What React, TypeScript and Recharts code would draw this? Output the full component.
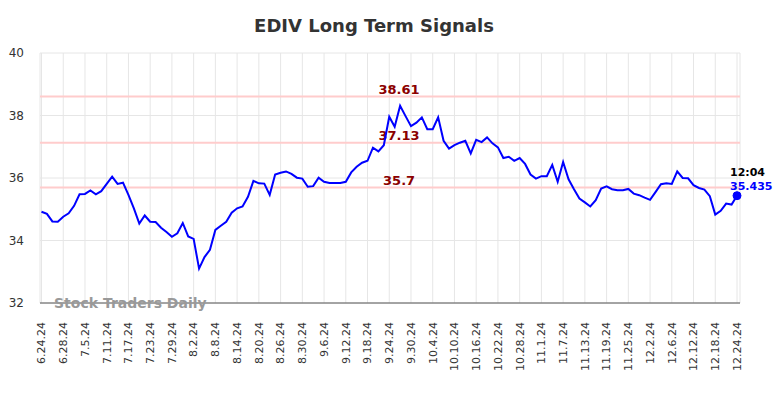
import React from 'react';
import { LineChart, Line, XAxis, YAxis, CartesianGrid, ReferenceLine, ReferenceDot } from 'recharts';

const dates: string[] = [
  '6.24.24','6.25.24','6.26.24','6.27.24','6.28.24',
  '7.1.24','7.2.24','7.3.24','7.5.24','7.8.24','7.9.24','7.10.24','7.11.24','7.12.24','7.15.24','7.16.24','7.17.24','7.18.24','7.19.24','7.22.24','7.23.24','7.24.24','7.25.24','7.26.24','7.29.24','7.30.24','7.31.24',
  '8.1.24','8.2.24','8.5.24','8.6.24','8.7.24','8.8.24','8.9.24','8.12.24','8.13.24','8.14.24','8.15.24','8.16.24','8.19.24','8.20.24','8.21.24','8.22.24','8.23.24','8.26.24','8.27.24','8.28.24','8.29.24','8.30.24',
  '9.3.24','9.4.24','9.5.24','9.6.24','9.9.24','9.10.24','9.11.24','9.12.24','9.13.24','9.16.24','9.17.24','9.18.24','9.19.24','9.20.24','9.23.24','9.24.24','9.25.24','9.26.24','9.27.24','9.30.24',
  '10.1.24','10.2.24','10.3.24','10.4.24','10.7.24','10.8.24','10.9.24','10.10.24','10.11.24','10.14.24','10.15.24','10.16.24','10.17.24','10.18.24','10.21.24','10.22.24','10.23.24','10.24.24','10.25.24','10.28.24','10.29.24','10.30.24','10.31.24',
  '11.1.24','11.4.24','11.5.24','11.6.24','11.7.24','11.8.24','11.11.24','11.12.24','11.13.24','11.14.24','11.15.24','11.18.24','11.19.24','11.20.24','11.21.24','11.22.24','11.25.24','11.26.24','11.27.24','11.29.24',
  '12.2.24','12.3.24','12.4.24','12.5.24','12.6.24','12.9.24','12.10.24','12.11.24','12.12.24','12.13.24','12.16.24','12.17.24','12.18.24','12.19.24','12.20.24','12.23.24','12.24.24',
];

const prices: number[] = [
  34.92, 34.85, 34.61, 34.60, 34.76, 34.87, 35.11, 35.48, 35.49, 35.60,
  35.48, 35.58, 35.81, 36.04, 35.81, 35.85, 35.46, 35.03, 34.54, 34.80,
  34.60, 34.59, 34.41, 34.27, 34.12, 34.23, 34.56, 34.13, 34.05, 33.10,
  33.47, 33.70, 34.34, 34.47, 34.60, 34.89, 35.03, 35.09, 35.40, 35.91,
  35.83, 35.82, 35.46, 36.11, 36.17, 36.21, 36.13, 36.01, 35.98, 35.72,
  35.74, 36.01, 35.88, 35.84, 35.84, 35.84, 35.88, 36.18, 36.36, 36.49,
  36.55, 36.97, 36.85, 37.05, 37.96, 37.64, 38.31, 37.98, 37.66, 37.77,
  37.94, 37.56, 37.56, 37.94, 37.19, 36.94, 37.05, 37.13, 37.19, 36.79,
  37.22, 37.15, 37.30, 37.11, 36.98, 36.64, 36.68, 36.55, 36.64, 36.45,
  36.11, 35.98, 36.06, 36.06, 36.42, 35.88, 36.51, 35.96, 35.64, 35.34,
  35.22, 35.09, 35.29, 35.66, 35.73, 35.64, 35.61, 35.61, 35.65, 35.50,
  35.45, 35.37, 35.30, 35.55, 35.80, 35.83, 35.81, 36.21, 36.00, 35.99,
  35.77, 35.68, 35.63, 35.42, 34.83, 34.95, 35.18, 35.15, 35.435,
];

const tickLabels: string[] = [
  '6.24.24','6.28.24','7.5.24','7.11.24','7.17.24','7.23.24','7.29.24','8.2.24','8.8.24',
  '8.14.24','8.20.24','8.26.24','8.30.24','9.6.24','9.12.24','9.18.24','9.24.24','9.30.24',
  '10.4.24','10.10.24','10.16.24','10.22.24','10.28.24','11.1.24','11.7.24','11.13.24',
  '11.19.24','11.25.24','12.2.24','12.6.24','12.12.24','12.18.24','12.24.24',
];

const yTicks: number[] = [32, 34, 36, 38, 40];
const signalLevels: number[] = [38.61, 37.13, 35.7];
const signalLabels: string[] = ['38.61', '37.13', '35.7'];
const lastTime = '12:04';
const lastPriceLabel = '35.435';
const title = 'EDIV Long Term Signals';
const watermark = 'Stock Traders Daily';

const data = prices.map((p, i) => ({ i, date: dates[i], price: p }));
const tickIdx = tickLabels.map((l) => dates.indexOf(l));
const lastIndex = prices.length - 1;

const FONT = '"DejaVu Sans", Verdana, sans-serif';

const XTick = (props: any) => {
  const { x, y, payload } = props;
  return (
    <text
      x={x}
      y={y + 11}
      transform={`rotate(-90, ${x}, ${y + 11})`}
      textAnchor="end"
      dy="0.35em"
      fontSize={11}
      fontFamily={FONT}
      fill="#333"
    >
      {dates[payload.value]}
    </text>
  );
};

const SignalLabel = (text: string) => (props: any) => {
  const vb = props.viewBox || {};
  const cx = vb.x + vb.width * 0.513;
  return (
    <text
      x={cx}
      y={vb.y - 7}
      textAnchor="middle"
      dy="0.35em"
      fontSize={13}
      fontWeight="bold"
      fontFamily={FONT}
      fill="#8b0000"
    >
      {text}
    </text>
  );
};

const LastLabel = (props: any) => {
  const vb = props.viewBox || {};
  const cx = vb.x + (vb.width || 0) / 2;
  const cy = vb.y + (vb.height || 0) / 2;
  return (
    <g>
      <text x={cx - 7} y={cy - 24} dy="0.35em" fontSize={11} fontWeight="bold" fontFamily={FONT} fill="#000">
        {lastTime}
      </text>
      <text x={cx - 7} y={cy - 10} dy="0.35em" fontSize={11} fontWeight="bold" fontFamily={FONT} fill="#0000ff">
        {lastPriceLabel}
      </text>
    </g>
  );
};

export default function App() {
  return (
    <div style={{ position: 'absolute', left: 0, top: 0, width: 784, height: 398, background: '#fff' }}>
      <div
        style={{
          position: 'absolute', left: 0, top: 14, width: 748, textAlign: 'center',
          fontFamily: FONT, fontWeight: 'bold', fontSize: 18, color: '#333', lineHeight: '24px',
        }}
      >
        {title}
      </div>
      <LineChart
        width={784}
        height={398}
        data={data}
        margin={{ top: 53, right: 44, bottom: 0, left: 0 }}
      >
        <CartesianGrid stroke="#e6e6e6" strokeWidth={1} />
        <XAxis
          dataKey="i"
          type="number"
          domain={[0, lastIndex]}
          ticks={tickIdx}
          interval={0}
          padding={{ left: 1.5, right: 3 }}
          axisLine={{ stroke: '#555', strokeWidth: 1 }}
          tickLine={false}
          height={95}
          tick={<XTick />}
        />
        <YAxis
          domain={[32, 40]}
          ticks={yTicks}
          axisLine={false}
          tickLine={false}
          width={40}
          tickMargin={10}
          tick={{ fill: '#333', fontSize: 12, fontFamily: FONT }}
        />
        {signalLevels.map((lv, k) => (
          <ReferenceLine
            key={k}
            y={lv}
            stroke="#ffcccc"
            strokeWidth={2}
            label={SignalLabel(signalLabels[k])}
          />
        ))}
        <Line
          type="linear"
          dataKey="price"
          stroke="#0000ff"
          strokeWidth={2}
          dot={false}
          isAnimationActive={false}
        />
        <ReferenceDot
          x={lastIndex}
          y={prices[lastIndex]}
          r={4}
          fill="#0000ff"
          stroke="#0000ff"
          label={<LastLabel />}
        />
      </LineChart>
      <div
        style={{
          position: 'absolute', left: 54, top: 294, fontFamily: FONT, fontWeight: 'bold',
          fontSize: 14, color: '#999', lineHeight: '18px', whiteSpace: 'nowrap',
        }}
      >
        {watermark}
      </div>
    </div>
  );
}
